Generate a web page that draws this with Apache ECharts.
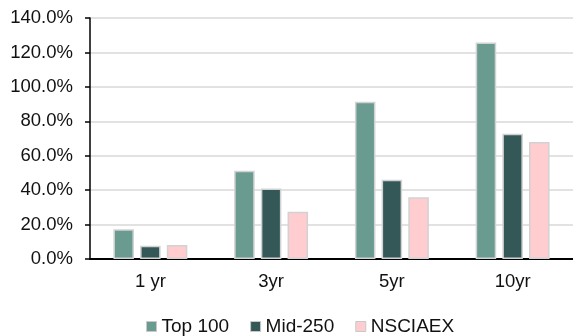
<!DOCTYPE html>
<html>
<head>
<meta charset="utf-8">
<script src="https://cdn.jsdelivr.net/npm/echarts@6/dist/echarts.min.js"></script>
<style>
  html, body { margin: 0; padding: 0; background: #fff; }
  #chart { width: 573px; height: 336px; }
</style>
</head>
<body>
<div id="chart"></div>
<script>
// Cumulative returns by holding period
const categories = ['1 yr', '3yr', '5yr', '10yr'];
const top100 = [17.3, 51.2, 91.3, 125.8];
const mid250 = [7.7, 40.9, 46.1, 72.7];
const nsciaex = [8.1, 27.5, 35.9, 68.0];
const seriesNames = ['Top 100', 'Mid-250', 'NSCIAEX'];

const FONT = '"Liberation Sans", Arial, sans-serif';
const colors = ['#699b91', '#335857', '#ffccd0'];

const chart = echarts.init(document.getElementById('chart'), null, { renderer: 'canvas' });

function barSeries(name, data, color) {
  return {
    name: name,
    type: 'bar',
    data: data,
    barWidth: '17%',
    barGap: '30%',
    itemStyle: { color: color, borderColor: '#d2d2d2', borderWidth: 1.5 }
  };
}

chart.setOption({
  animation: false,
  textStyle: { fontFamily: FONT },
  grid: { left: 90, right: -2, top: 18, bottom: 77, containLabel: false },
  legend: {
    top: 317,
    left: 146,
    padding: 0,
    itemWidth: 10,
    itemHeight: 10,
    itemGap: 21,
    icon: 'rect',
    textStyle: { fontFamily: FONT, fontSize: 19, color: '#111' },
    itemStyle: { borderColor: '#c8c8c8', borderWidth: 1 },
    data: seriesNames
  },
  xAxis: {
    type: 'category',
    data: categories,
    axisLine: { lineStyle: { color: '#000', width: 2 } },
    axisTick: { alignWithLabel: true, length: 5, lineStyle: { color: '#000', width: 1.5 } },
    axisLabel: { fontFamily: FONT, fontSize: 18.5, color: '#111', margin: 13 }
  },
  yAxis: {
    type: 'value',
    min: 0,
    max: 140,
    interval: 20,
    axisLine: { show: true, lineStyle: { color: '#000', width: 1.5 } },
    axisTick: { show: true, length: 5, lineStyle: { color: '#000', width: 1.5 } },
    splitLine: { lineStyle: { color: '#d9d9d9', width: 1.5 } },
    axisLabel: {
      fontFamily: FONT, fontSize: 18.5, color: '#111', margin: 17,
      formatter: v => v.toFixed(1) + '%'
    }
  },
  series: [
    barSeries(seriesNames[0], top100, colors[0]),
    barSeries(seriesNames[1], mid250, colors[1]),
    barSeries(seriesNames[2], nsciaex, colors[2])
  ]
});
</script>
</body>
</html>
